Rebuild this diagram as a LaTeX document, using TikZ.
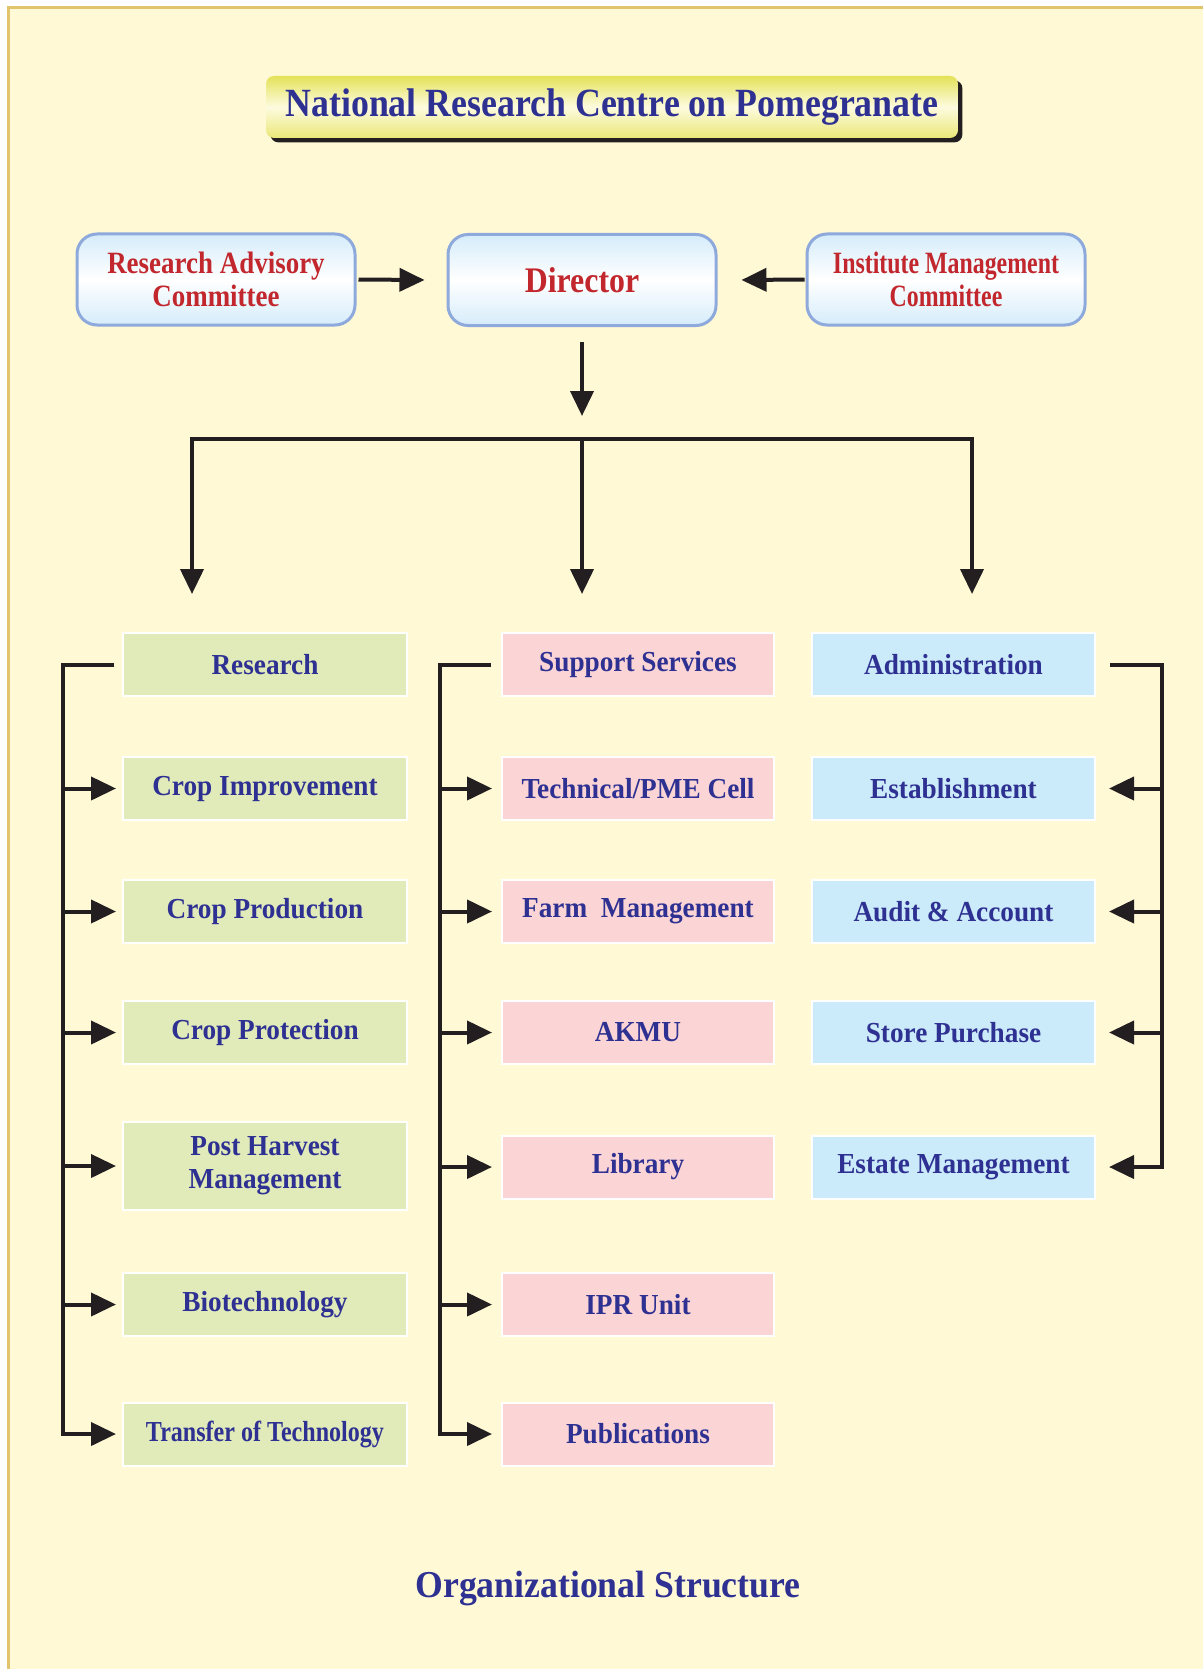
\documentclass[tikz,border=0pt]{standalone}
\usepackage{fontspec}
\setmainfont{Liberation Serif}
\newfontfamily\fBox[FakeStretch=0.94]{Liberation Serif}
\newfontfamily\fToT[FakeStretch=0.83]{Liberation Serif}
\newfontfamily\fDir[FakeStretch=0.885]{Liberation Serif}
\newfontfamily\fRAC[FakeStretch=0.87]{Liberation Serif}
\newfontfamily\fIMC[FakeStretch=0.77]{Liberation Serif}
\newfontfamily\fTitle[FakeStretch=0.895]{Liberation Serif}
\newfontfamily\fFoot[FakeStretch=0.94]{Liberation Serif}
\usetikzlibrary{arrows.meta,calc,shadows}
\definecolor{bgc}{HTML}{FFF9D6}
\definecolor{bordc}{HTML}{E2C36E}
\definecolor{navy}{HTML}{2E3192}
\definecolor{redc}{HTML}{C1272D}
\definecolor{grn}{HTML}{E1EBBA}
\definecolor{pnk}{HTML}{FBD5D6}
\definecolor{blu}{HTML}{CCEBFA}
\definecolor{tbord}{HTML}{8EA9DB}
\definecolor{lbl}{HTML}{D5ECFA}
\definecolor{ttop}{HTML}{E4E257}
\definecolor{tmid}{HTML}{FDFBDF}
\definecolor{tbot}{HTML}{EAE778}
\definecolor{ink}{HTML}{231F20}
\tikzset{
  ln/.style={line width=2pt, draw=ink},
  arr/.style={ln, -{Triangle[length=12.5pt,width=11.5pt]}},
  lowbox/.style={rectangle, draw=white, line width=1pt, inner sep=0pt, text=navy, align=center,
    minimum height=31.5pt, font=\fBox\bfseries\fontsize{14.5}{16.5}\selectfont},
  gbox/.style={lowbox, fill=grn, minimum width=142pt},
  pbox/.style={lowbox, fill=pnk, minimum width=136pt},
  bbox/.style={lowbox, fill=blu, minimum width=141.5pt},
  topbox/.style={rectangle, rounded corners=10pt, draw=tbord, line width=1.5pt,
    top color=lbl, bottom color=lbl, middle color=white, inner sep=0pt,
    minimum height=45.5pt, text=redc, align=center},
}
\begin{document}
\begin{tikzpicture}[x=0.5pt,y=-0.5pt]
\useasboundingbox (0,0) rectangle (1203,1669);
\fill[white] (0,0) rectangle (1203,1669);
\fill[bgc] (7,7) rectangle (1203,1669);
\draw[bordc, line width=1.5pt] (8,1669) -- (8,8) -- (1203,8);

% title
\node[rectangle, rounded corners=4pt, top color=ttop, bottom color=tbot, middle color=tmid,
  minimum width=346pt, minimum height=31pt, inner sep=0pt, text=navy,
  font=\fTitle\bfseries\fontsize{20}{22}\selectfont,
  drop shadow={shadow xshift=2.2pt, shadow yshift=-2.2pt, opacity=1, fill=ink}]
  (title) at (612,107) {National Research Centre on Pomegranate};

% top row
\node[topbox, minimum width=139pt, font=\fRAC\bfseries\fontsize{15.5}{16.5}\selectfont]
  (rac) at (216,279.5) {Research Advisory\\Committee};
\node[topbox, minimum width=134pt, font=\fDir\bfseries\fontsize{18}{20}\selectfont]
  (dir) at (582,280) {Director};
\node[topbox, minimum width=139pt, font=\fIMC\bfseries\fontsize{15.5}{16.5}\selectfont]
  (imc) at (946,279.5) {Institute Management\\Committee};

\draw[arr] ($(rac.east)+(2,0)$) -- ($(dir.west)+(-22,0)$);
\draw[arr] ($(imc.west)+(-1,0)$) -- ($(dir.east)+(24,0)$);
\draw[arr] ($(dir.south)+(0,15)$) -- ($(dir.south)+(0,89)$);

\coordinate (bC) at (582,439);
\coordinate (bL) at (192,439);
\coordinate (bR) at (972,439);
\draw[arr] (bC) -- (bL) -- ++(0,155);
\draw[arr] (bC) -- (bR) -- ++(0,155);
\draw[arr] (bC) -- ++(0,155);

% left column
\node[gbox] (res) at (265,664.5) {Research};
\node[gbox] (ci)  at (265,788.5) {Crop Improvement};
\node[gbox] (cp)  at (265,911.5) {Crop Production};
\node[gbox] (cpr) at (265,1032.5) {Crop Protection};
\node[gbox, minimum height=44pt] (phm) at (265,1166) {Post Harvest\\Management};
\node[gbox] (bio) at (265,1304.5) {Biotechnology};
\node[gbox, font=\fToT\bfseries\fontsize{14.5}{16.5}\selectfont] (tot) at (265,1434) {Transfer of Technology};

% middle column
\node[pbox] (ss)   at (638,664.5) {Support Services};
\node[pbox] (tech) at (638,788.5) {Technical/PME Cell};
\node[pbox] (farm) at (638,911.5) {Farm\ \ Management};
\node[pbox] (akmu) at (638,1032.5) {AKMU};
\node[pbox] (lib)  at (638,1167) {Library};
\node[pbox] (ipr)  at (638,1304.5) {IPR Unit};
\node[pbox] (pub)  at (638,1434) {Publications};

% right column
\node[bbox] (adm)  at (953.5,664.5) {Administration};
\node[bbox] (est)  at (953.5,788.5) {Establishment};
\node[bbox] (aud)  at (953.5,911.5) {Audit \& Account};
\node[bbox] (sp)   at (953.5,1032.5) {Store Purchase};
\node[bbox] (estm) at (953.5,1167) {Estate Management};

% left trunk
\coordinate (Lbot) at (63,1434);
\draw[arr] ($(res.west)+(-8,0)$) -| (Lbot) -- ($(tot.west)+(-6,0)$);
\foreach \n in {ci,cp,cpr,phm,bio}
  \draw[arr] (Lbot |- \n.west) -- ($(\n.west)+(-6,0)$);

% middle trunk
\coordinate (Mbot) at (440,1434);
\draw[arr] ($(ss.west)+(-10,0)$) -| (Mbot) -- ($(pub.west)+(-9,0)$);
\foreach \n in {tech,farm,akmu,lib,ipr}
  \draw[arr] (Mbot |- \n.west) -- ($(\n.west)+(-9,0)$);

% right trunk
\coordinate (Rbot) at (1162,1167);
\draw[arr] ($(adm.east)+(14,0)$) -| (Rbot) -- ($(estm.east)+(13,0)$);
\foreach \n in {est,aud,sp}
  \draw[arr] (Rbot |- \n.east) -- ($(\n.east)+(13,0)$);

% footer
\node[text=navy, font=\fFoot\bfseries\fontsize{19}{21}\selectfont] (foot) at (608,1588) {Organizational Structure};
\end{tikzpicture}
\end{document}
